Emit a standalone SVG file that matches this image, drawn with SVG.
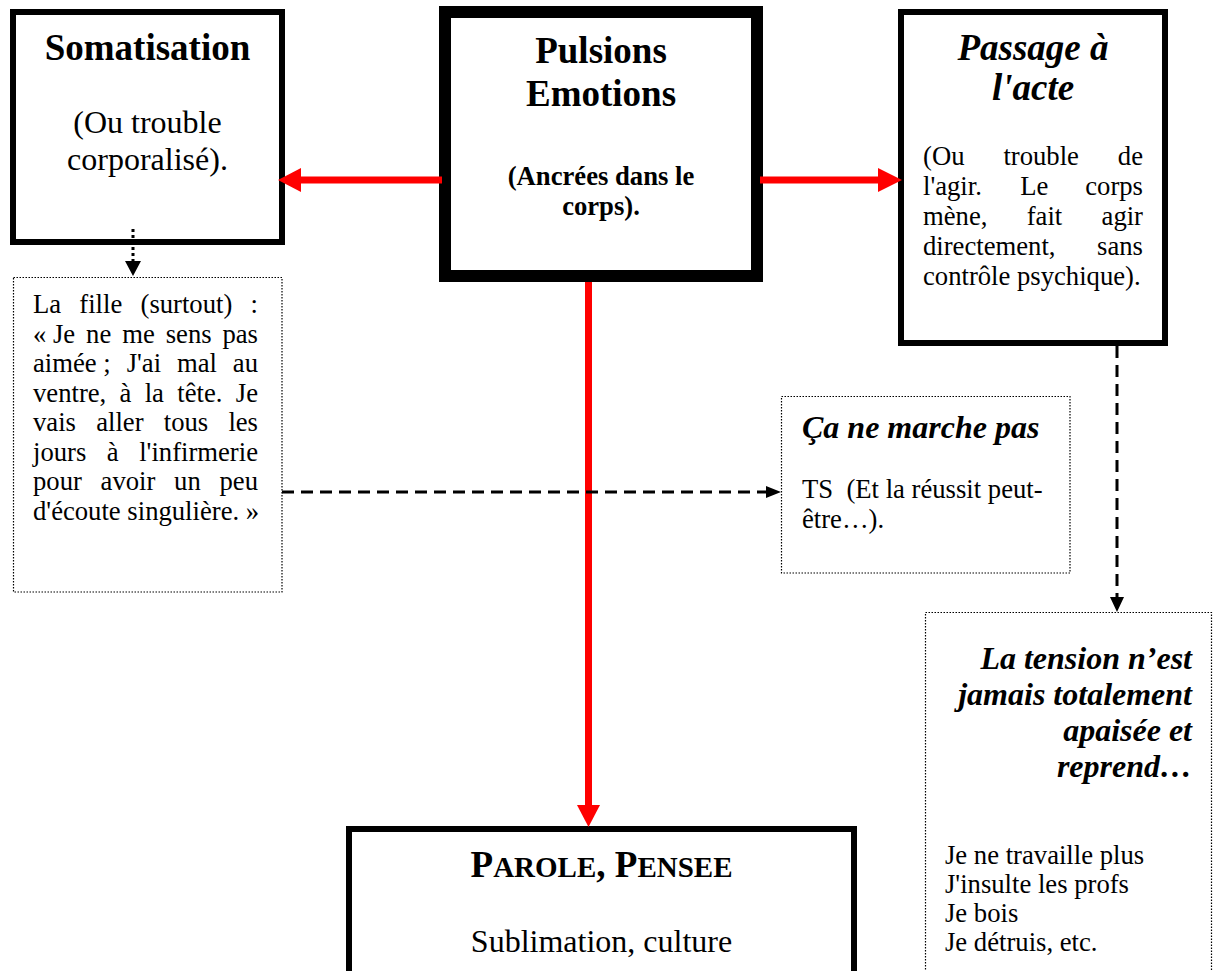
<svg xmlns="http://www.w3.org/2000/svg" width="1213" height="971" viewBox="0 0 1213 971">
<style>
text { font-family: "Liberation Serif", "Times New Roman", serif; fill: #000; }
.t37b { font-size: 37px; font-weight: bold; }
.t37bi { font-size: 37px; font-weight: bold; font-style: italic; }
.t32bi { font-size: 32px; font-weight: bold; font-style: italic; }
.t32 { font-size: 32px; }
.t27 { font-size: 26.67px; }
.t27b { font-size: 26.67px; font-weight: bold; }
.box { fill: #fff; stroke: #000; stroke-width: 6; }
.thick { fill: #fff; stroke: #000; stroke-width: 12; }
.dotbox { fill: #fff; stroke: #000; stroke-width: 1.2; stroke-dasharray: 1.5 1.5; }
.red { stroke: #ff0000; stroke-width: 7; fill: none; }
.dash { stroke: #000; stroke-width: 3; stroke-dasharray: 12 7; fill: none; }
.dots { stroke: #000; stroke-width: 3; stroke-dasharray: 3 3; fill: none; }
</style>
<rect width="1213" height="971" fill="#fff"/>

<g id="somatisation">
<rect class="box" x="13" y="12" width="269" height="230"/>
<text class="t37b" x="147.5" y="60" text-anchor="middle">Somatisation</text>
<text class="t32" x="147.5" y="133" text-anchor="middle">(Ou trouble</text>
<text class="t32" x="147.5" y="170" text-anchor="middle">corporalisé).</text>
</g>

<g id="pulsions">
<rect class="thick" x="445" y="12" width="312" height="264"/>
<text class="t37b" x="601" y="63" text-anchor="middle">Pulsions</text>
<text class="t37b" x="601" y="106" text-anchor="middle">Emotions</text>
<text class="t27b" x="601" y="185" text-anchor="middle">(Ancrées dans le</text>
<text class="t27b" x="601" y="215" text-anchor="middle">corps).</text>
</g>

<g id="passage">
<rect class="box" x="901" y="12" width="264" height="331"/>
<text class="t37bi" x="1033" y="60" text-anchor="middle">Passage à</text>
<text class="t37bi" x="1033" y="100" text-anchor="middle">l'acte</text>
<g class="t27">
<text x="923" y="165">(Ou</text><text x="1003.4" y="165">trouble</text><text x="1143" y="165" text-anchor="end">de</text>
<text x="923" y="195">l'agir.</text><text x="1020.3" y="195">Le</text><text x="1143" y="195" text-anchor="end">corps</text>
<text x="923" y="225">mène,</text><text x="1026.7" y="225">fait</text><text x="1143" y="225" text-anchor="end">agir</text>
<text x="923" y="255">directement,</text><text x="1143" y="255" text-anchor="end">sans</text>
<text x="923" y="285">contrôle psychique).</text>
</g>
</g>

<g id="lafille">
<rect class="dotbox" x="13.5" y="277.5" width="268.5" height="314.5"/>
<g class="t27">
<text x="33" y="313">La</text><text x="79.3" y="313">fille</text><text x="140.5" y="313">(surtout)</text><text x="258" y="313" text-anchor="end">:</text>
<text x="33" y="342.5">« Je</text><text x="86.1" y="342.5">ne</text><text x="122.2" y="342.5">me</text><text x="165.7" y="342.5">sens</text><text x="258" y="342.5" text-anchor="end">pas</text>
<text x="33" y="372">aimée ;</text><text x="126.7" y="372">J'ai</text><text x="177" y="372">mal</text><text x="258" y="372" text-anchor="end">au</text>
<text x="33" y="401.5">ventre,</text><text x="119.6" y="401.5">à</text><text x="144.7" y="401.5">la</text><text x="177.3" y="401.5">tête.</text><text x="258" y="401.5" text-anchor="end">Je</text>
<text x="33" y="431">vais</text><text x="96.2" y="431">aller</text><text x="163.8" y="431">tous</text><text x="258" y="431" text-anchor="end">les</text>
<text x="33" y="460.5">jours</text><text x="106.8" y="460.5">à</text><text x="258" y="460.5" text-anchor="end">l'infirmerie</text>
<text x="33" y="490">pour</text><text x="100.6" y="490">avoir</text><text x="174.1" y="490">un</text><text x="258" y="490" text-anchor="end">peu</text>
<text x="33" y="519.5">d'écoute singulière. »</text>
</g>
</g>

<g id="camarche">
<rect class="dotbox" x="781.5" y="396.5" width="288.5" height="176.5"/>
<text class="t32bi" x="802" y="438">Ça ne marche pas</text>
<text class="t27" x="802" y="498" xml:space="preserve">TS  (Et la réussit peut-</text>
<text class="t27" x="802" y="528">être…).</text>
</g>

<g id="tension">
<rect class="dotbox" x="925.5" y="612.5" width="286" height="380"/>
<text class="t32bi" x="1192" y="669" text-anchor="end">La tension n’est</text>
<text class="t32bi" x="1192" y="705" text-anchor="end">jamais totalement</text>
<text class="t32bi" x="1192" y="741" text-anchor="end">apaisée et</text>
<text class="t32bi" x="1192" y="777" text-anchor="end">reprend…</text>
<text class="t27" x="945" y="864">Je ne travaille plus</text>
<text class="t27" x="945" y="893">J'insulte les profs</text>
<text class="t27" x="945" y="922">Je bois</text>
<text class="t27" x="945" y="951">Je détruis, etc.</text>
</g>

<g id="parole">
<rect class="box" x="349" y="829" width="505" height="200"/>
<text x="601.5" y="877" text-anchor="middle" font-weight="bold"><tspan font-size="37">P</tspan><tspan font-size="29">AROLE</tspan><tspan font-size="37">, P</tspan><tspan font-size="29">ENSEE</tspan></text>
<text class="t32" x="601.5" y="952" text-anchor="middle">Sublimation, culture</text>
</g>

<g id="connectors">
<line class="red" x1="442" y1="180" x2="299" y2="180"/>
<polygon points="278,180 301,168 301,192" fill="#ff0000"/>
<line class="red" x1="760" y1="180" x2="880" y2="180"/>
<polygon points="902,180 878,168 878,192" fill="#ff0000"/>
<line class="red" x1="588.5" y1="282" x2="588.5" y2="807"/>
<polygon points="588.5,827 577,805 600,805" fill="#ff0000"/>
<line class="dots" x1="133" y1="229" x2="133" y2="261"/>
<polygon points="133,276 125,261 141,261" fill="#000"/>
<line class="dash" x1="282" y1="492" x2="767" y2="492"/>
<polygon points="781,492 766,486 766,498" fill="#000"/>
<line class="dash" x1="1117" y1="346" x2="1117" y2="598"/>
<polygon points="1117,612 1110,597 1124,597" fill="#000"/>
</g>
</svg>
